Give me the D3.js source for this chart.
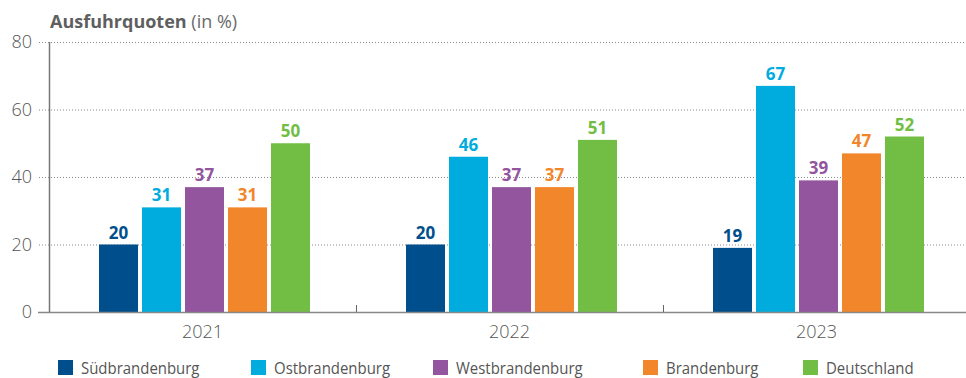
<!DOCTYPE html>
<html>
<head>
<meta charset="utf-8">
<script src="https://cdn.jsdelivr.net/npm/d3@7"></script>
<style>
  html, body { margin: 0; padding: 0; background: #fff; }
  svg { display: block; }
</style>
</head>
<body>
<svg id="chart" width="966" height="378"></svg>
<script>
// Export quotas by region and year
const years = ["2021", "2022", "2023"];
const regions = ["Südbrandenburg", "Ostbrandenburg", "Westbrandenburg", "Brandenburg", "Deutschland"];
const colors = ["#004f8c", "#00acdd", "#93559e", "#f2862a", "#72be44"];
const suedbrandenburg = [20, 20, 19];
const ostbrandenburg = [31, 46, 67];
const westbrandenburg = [37, 37, 39];
const brandenburg = [31, 37, 47];
const deutschland = [50, 51, 52];
const yTicks = [0, 20, 40, 60, 80];
const legendX = [58, 251, 433, 643, 803];

const seriesValues = [suedbrandenburg, ostbrandenburg, westbrandenburg, brandenburg, deutschland];
const rows = years.map((y, i) => ({
  year: y,
  values: regions.map((r, j) => ({ region: r, value: seriesValues[j][i], color: colors[j] }))
}));

const svg = d3.select("#chart");
const numFont = "'Open Sans', Roboto, sans-serif";

const x0 = d3.scaleBand().domain(years).range([49, 970]);
const x1 = d3.scaleBand().domain(regions).range([50, 261]).paddingInner(4 / 43).paddingOuter(0);
const y = d3.scaleLinear().domain([0, 80]).range([312, 42]);

// Title
const title = svg.append("text")
  .attr("x", 50).attr("y", 28)
  .attr("font-family", numFont).attr("font-size", 18).attr("fill", "#5f5f5f");
title.append("tspan").attr("font-weight", 700).text("Ausfuhrquoten");
title.append("tspan").attr("font-weight", 400).attr("fill", "#6a6a6a").text(" (in %)");

// Dotted grid lines
svg.append("g").selectAll("line")
  .data(yTicks.filter(t => t > 0))
  .join("line")
  .attr("x1", 39).attr("x2", 966)
  .attr("y1", d => y(d) + 0.5).attr("y2", d => y(d) + 0.5)
  .attr("stroke", "#8a8a8a").attr("stroke-width", 1)
  .attr("stroke-dasharray", "1,2");

// Y tick labels
svg.append("g").selectAll("text")
  .data(yTicks)
  .join("text")
  .attr("x", 32).attr("y", d => y(d) + 6)
  .attr("text-anchor", "end")
  .attr("font-family", numFont).attr("font-weight", 300).attr("font-size", 18)
  .attr("fill", "#555")
  .text(d => d);

// Bars
const groups = svg.append("g").selectAll("g")
  .data(rows)
  .join("g")
  .attr("transform", d => `translate(${x0(d.year)},0)`);

groups.selectAll("rect")
  .data(d => d.values)
  .join("rect")
  .attr("x", d => x1(d.region))
  .attr("y", d => y(d.value))
  .attr("width", x1.bandwidth())
  .attr("height", d => y(0) - y(d.value))
  .attr("fill", d => d.color);

groups.selectAll("text")
  .data(d => d.values)
  .join("text")
  .attr("x", d => x1(d.region) + x1.bandwidth() / 2)
  .attr("y", d => y(d.value) - 6)
  .attr("text-anchor", "middle")
  .attr("font-family", numFont).attr("font-weight", 700).attr("font-size", 17)
  .attr("fill", d => d.color)
  .text(d => d.value);

// Axes
svg.append("line")
  .attr("x1", 49.5).attr("x2", 49.5).attr("y1", 42).attr("y2", 312)
  .attr("stroke", "#777").attr("stroke-width", 1.5);
svg.append("line")
  .attr("x1", 38).attr("x2", 966).attr("y1", 312.5).attr("y2", 312.5)
  .attr("stroke", "#888").attr("stroke-width", 1.5);
svg.append("g").selectAll("line")
  .data(years.slice(1))
  .join("line")
  .attr("x1", d => x0(d) + 0.5).attr("x2", d => x0(d) + 0.5)
  .attr("y1", 305).attr("y2", 312)
  .attr("stroke", "#666").attr("stroke-width", 1);

// Year labels
svg.append("g").selectAll("text")
  .data(years)
  .join("text")
  .attr("x", d => x0(d) + x0.bandwidth() / 2)
  .attr("y", 338)
  .attr("text-anchor", "middle")
  .attr("font-family", numFont).attr("font-weight", 300).attr("font-size", 18)
  .attr("fill", "#555")
  .text(d => d);

// Legend (labels set in a horizontally condensed face)
const legend = svg.append("g").selectAll("g")
  .data(regions)
  .join("g")
  .attr("transform", (d, i) => `translate(${legendX[i]},360)`);
legend.append("rect")
  .attr("width", 15).attr("height", 15)
  .attr("fill", (d, i) => colors[i]);
legend.append("text")
  .attr("transform", "translate(23,13.5) scale(0.88,1)")
  .attr("font-family", numFont).attr("font-weight", 400).attr("font-size", 17)
  .attr("fill", "#555")
  .text(d => d);
</script>
</body>
</html>
